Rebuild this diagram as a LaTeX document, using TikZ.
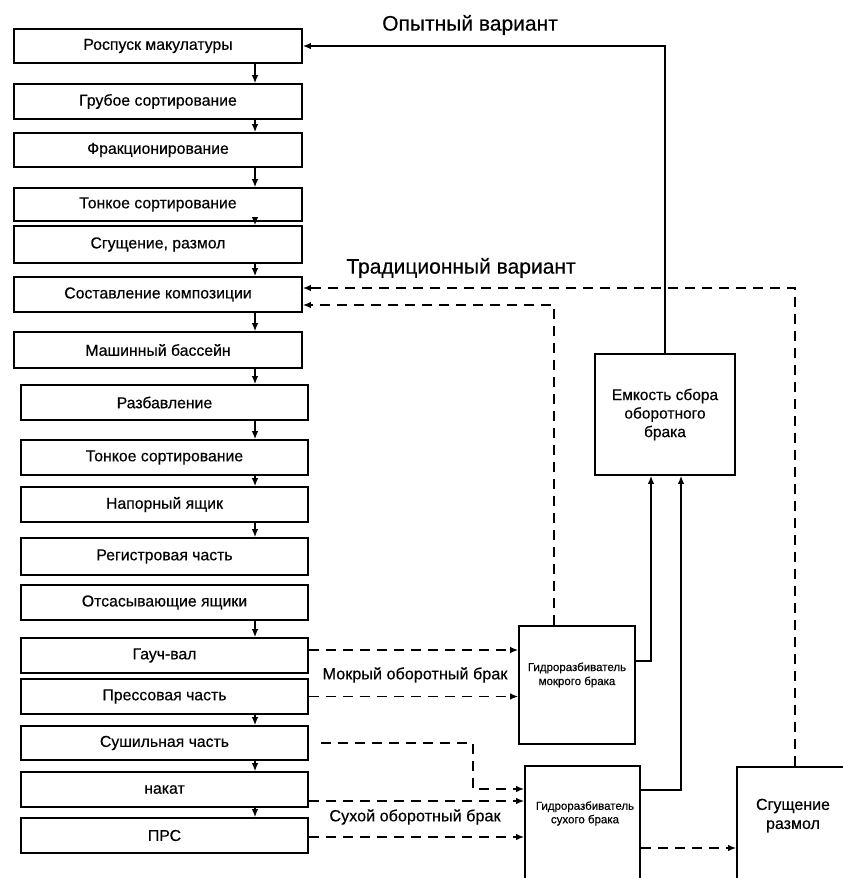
\documentclass[tikz,border=0pt]{standalone}
\usepackage{fontspec}
\setmainfont{Liberation Sans}[FakeBold=0.4]
\usetikzlibrary{arrows.meta,calc}
\begin{document}
\begin{tikzpicture}[x=1pt,y=-1pt,
  box/.style={draw, line width=1.7pt, inner sep=0pt, align=center, font=\fontsize{15.8}{17}\selectfont},
  boxa/.style={box, minimum width=288pt},
  boxb/.style={box, minimum width=287pt},
  rbox/.style={draw, line width=1.7pt, inner sep=0pt},
  flow/.style={line width=1.3pt, -{Latex[length=8pt,width=6.5pt]}},
  dflow/.style={line width=1.4pt, dash pattern=on 10pt off 7pt, -{Latex[length=8pt,width=6.5pt]}},
  lbl/.style={font=\fontsize{21}{24}\selectfont},
  slbl/.style={font=\fontsize{16.2}{18}\selectfont},
]
\clip (0,0) rectangle (843,878);
\fill[white] (0,0) rectangle (843,878);

% left column
\node[boxa, minimum height=34pt] (b1) at (158,46) {Роспуск макулатуры};
\node[boxa, minimum height=35pt] (b2) at (158,101.5) {Грубое сортирование};
\node[boxa, minimum height=34pt] (b3) at (158,150) {Фракционирование};
\node[boxa, minimum height=33pt] (b4) at (158,204.5) {Тонкое сортирование};
\node[boxa, minimum height=37pt] (b5) at (158,244.5) {Сгущение, размол};
\node[boxa, minimum height=35pt] (b6) at (158,294.5) {Составление композиции};
\node[boxa, minimum height=36pt] (b7) at (158,350) {Машинный бассейн};
\node[boxb, minimum height=35pt] (b8) at (164.5,402.5) {Разбавление};
\node[boxb, minimum height=35pt] (b9) at (164.5,457.5) {Тонкое сортирование};
\node[boxb, minimum height=35pt] (b10) at (164.5,504.5) {Напорный ящик};
\node[boxb, minimum height=37pt] (b11) at (164.5,556.5) {Регистровая часть};
\node[boxb, minimum height=35pt] (b12) at (164.5,602.5) {Отсасывающие ящики};
\node[boxb, minimum height=35pt] (b13) at (164.5,655.5) {Гауч-вал};
\node[boxb, minimum height=35pt] (b14) at (164.5,696.5) {Прессовая часть};
\node[boxb, minimum height=34pt] (b15) at (164.5,743) {Сушильная часть};
\node[boxb, minimum height=35pt] (b16) at (164.5,789.5) {накат};
\node[boxb, minimum height=35pt] (b17) at (164.5,835.5) {ПРС};

\coordinate (ax) at (255,0);
\foreach \a/\b in {b1/b2,b2/b3,b3/b4,b4/b5,b5/b6,b6/b7,b7/b8,b8/b9,b9/b10,b10/b11,b12/b13,b14/b15,b15/b16,b16/b17}
  \draw[flow] (\a.south -| ax) -- (\b.north -| ax);

% right boxes
\node[rbox, minimum width=140pt, minimum height=121pt, align=center, font=\fontsize{15.5}{18.5}\selectfont] (e) at (665,414.5) {Емкость сбора\\оборотного\\брака};
\node[rbox, minimum width=116pt, minimum height=118pt] (m) at (577,685) {};
\node[font=\fontsize{11.5}{14}\selectfont, align=center] (mt) at (577,675) {Гидроразбиватель\\мокрого брака};
\node[rbox, minimum width=115pt, minimum height=124pt] (su) at (582.5,828) {};
\node[font=\fontsize{11.5}{13.5}\selectfont, align=center] (st) at (585,813.5) {Гидроразбиватель\\сухого брака};
\node[rbox, minimum width=116pt, minimum height=124pt] (sg) at (795,829) {};
\node[font=\fontsize{16}{19}\selectfont, align=center] (sgt) at (793,815.5) {Сгущение\\размол};

% labels
\node[lbl] (lo) at (470,25) {Опытный вариант};
\node[lbl] (lt) at (461,268) {Традиционный вариант};
\node[slbl] (lm) at (415,675) {Мокрый оборотный брак};
\node[slbl] (ls) at (415,817) {Сухой оборотный брак};

% experimental variant
\draw[flow] (e.north) |- (b1.east);
% traditional variant
\draw[dflow] (sg.north) |- ([yshift=6.5pt]b6.east);
\draw[dflow] ([xshift=-23pt]m.north) |- ([yshift=-10.5pt]b6.east);
% wet broke
\draw[dflow] ([yshift=5.5pt]b13.east) -- ([yshift=5.5pt]b13.east -| m.west);
\draw[dflow] (b14.east) -- (b14.east -| m.west);
% dry broke
\coordinate (c15) at ([xshift=12pt]b15.east);
\coordinate (k15) at (473,789);
\draw[dflow] (c15) -| (k15) -- (k15 -| su.west);
\draw[dflow] ([yshift=-11.5pt]b16.east) -- ([yshift=-11.5pt]b16.east -| su.west);
\draw[dflow] ([yshift=-1.5pt]b17.east) -- ([yshift=-1.5pt]b17.east -| su.west);
\draw[dflow] ([yshift=-20pt]su.east) -- ([yshift=-20pt]su.east -| sg.west);
% to collection tank
\draw[flow] ([yshift=24pt]m.east) -| ([xshift=-14pt]e.south);
\draw[flow] ([yshift=38pt]su.east) -| ([xshift=16pt]e.south);
\end{tikzpicture}
\end{document}
